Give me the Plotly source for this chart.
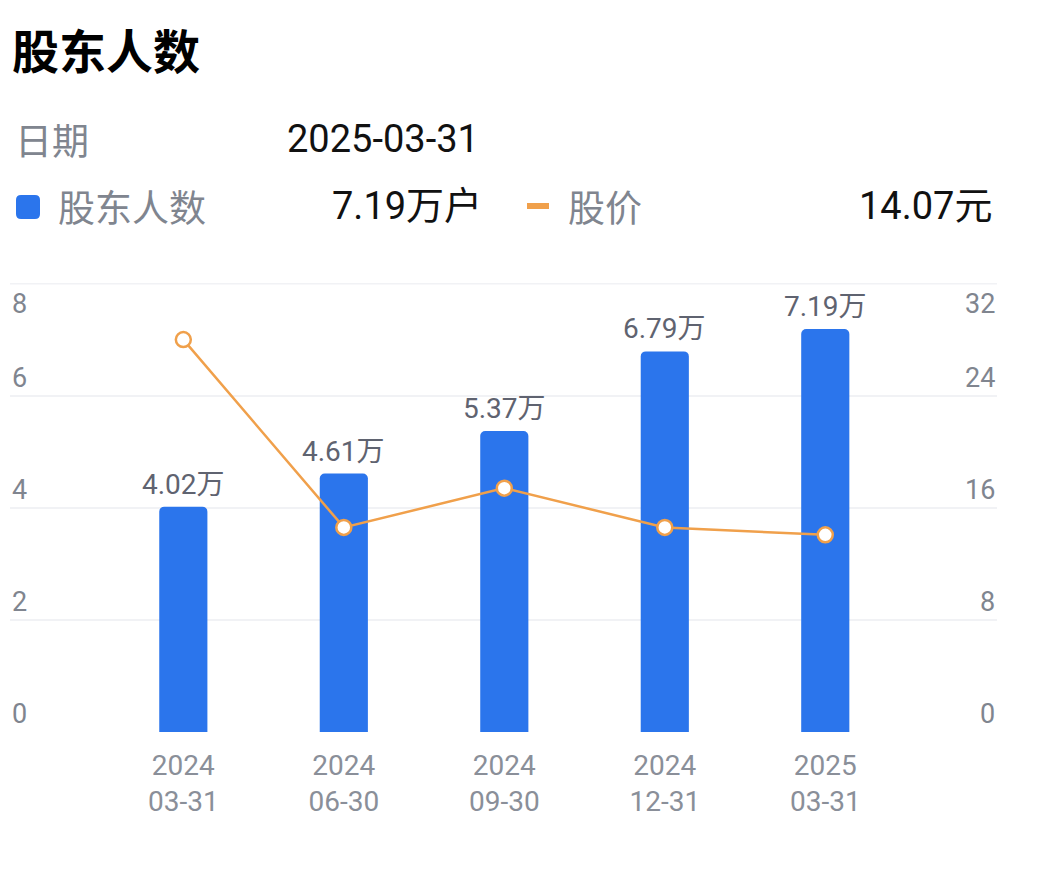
import plotly.graph_objects as go

# ---- data ----
dates = ["2024-03-31", "2024-06-30", "2024-09-30", "2024-12-31", "2025-03-31"]
holders = [4.02, 4.61, 5.37, 6.79, 7.19]          # 万户
price = [28.0, 14.6, 17.4, 14.6, 14.07]           # 元
left_ticks = [0, 2, 4, 6, 8]
right_ticks = [0, 8, 16, 24, 32]

x_labels = [d[:4] + "<br>" + d[5:] for d in dates]
x_idx = list(range(len(dates)))

BLUE = "#2B75EC"
ORANGE = "#F0A04B"
GRAY = "#80858F"
DARKGRAY = "#5F6370"
GRID = "#F1F2F5"
FONT = "Roboto, 'Noto Sans CJK SC', sans-serif"
CJK = "'Noto Sans CJK SC', Roboto, sans-serif"

OFF = 8  # page body margin
W, H = 1042 - OFF, 874 - OFF
# plot area in page pixels
L, R, T, B = 10, 997, 283, 732


def px(x):
    return (x - L) / (R - L)


def py(y):
    return (B - y) / (B - T)


fig = go.Figure()
fig.add_trace(go.Bar(
    x=x_idx, y=holders, width=0.3, marker=dict(color=BLUE, cornerradius=5, line=dict(width=0)),
    yaxis="y", hoverinfo="skip",
))
fig.add_trace(go.Scatter(
    x=x_idx, y=price, mode="lines+markers", yaxis="y2",
    line=dict(color=ORANGE, width=2.5),
    marker=dict(size=15, color="white", line=dict(color=ORANGE, width=2.5)),
    hoverinfo="skip",
))

ann = []
# bar value labels
for i, v in zip(x_idx, holders):
    ann.append(dict(x=i, y=v, xref="x", yref="y", text=f"{v:.2f}万", showarrow=False,
                    yanchor="bottom", yshift=4, font=dict(family=FONT, size=28, color=DARKGRAY)))
# left axis labels
for v in left_ticks:
    top = v == left_ticks[-1]
    ann.append(dict(x=0, y=v, xref="paper", yref="y", text=str(v), showarrow=False,
                    xanchor="left", yanchor="top" if top else "bottom",
                    yshift=-2 if top else 0, font=dict(family=FONT, size=27, color=GRAY)))
# right axis labels
for v in right_ticks:
    top = v == right_ticks[-1]
    ann.append(dict(x=1, y=v, xref="paper", yref="y2", text=str(v), showarrow=False,
                    xanchor="right", yanchor="top" if top else "bottom",
                    yshift=-2 if top else 0, font=dict(family=FONT, size=27, color=GRAY)))

# header texts
ann += [
    dict(x=px(10), y=py(48), xref="paper", yref="paper", text="<b>股东人数</b>", showarrow=False,
         xanchor="left", yanchor="middle", font=dict(family=CJK, size=47, color="#000000")),
    dict(x=px(13), y=py(139), xref="paper", yref="paper", text="日期", showarrow=False,
         xanchor="left", yanchor="middle", font=dict(family=CJK, size=37, color=GRAY)),
    dict(x=px(285), y=py(139), xref="paper", yref="paper", text=dates[-1], showarrow=False,
         xanchor="left", yanchor="middle", font=dict(family=FONT, size=38, color="#111111")),
    dict(x=px(56), y=py(206), xref="paper", yref="paper", text="股东人数", showarrow=False,
         xanchor="left", yanchor="middle", font=dict(family=CJK, size=37, color=GRAY)),
    dict(x=px(484), y=py(206), xref="paper", yref="paper", text=f"{holders[-1]:.2f}万户", showarrow=False,
         xanchor="right", yanchor="middle", font=dict(family=FONT, size=38, color="#111111")),
    dict(x=px(566), y=py(206), xref="paper", yref="paper", text="股价", showarrow=False,
         xanchor="left", yanchor="middle", font=dict(family=CJK, size=37, color=GRAY)),
    dict(x=px(994), y=py(206), xref="paper", yref="paper", text=f"{price[-1]:.2f}元", showarrow=False,
         xanchor="right", yanchor="middle", font=dict(family=FONT, size=38, color="#111111")),
]


def rounded_rect(x0, y0, x1, y1, r):
    pts = [
        f"M {px(x0 + r)} {py(y0)}", f"L {px(x1 - r)} {py(y0)}",
        f"Q {px(x1)} {py(y0)} {px(x1)} {py(y0 + r)}", f"L {px(x1)} {py(y1 - r)}",
        f"Q {px(x1)} {py(y1)} {px(x1 - r)} {py(y1)}", f"L {px(x0 + r)} {py(y1)}",
        f"Q {px(x0)} {py(y1)} {px(x0)} {py(y1 - r)}", f"L {px(x0)} {py(y0 + r)}",
        f"Q {px(x0)} {py(y0)} {px(x0 + r)} {py(y0)}", "Z",
    ]
    return " ".join(pts)


shapes = [
    dict(type="path", xref="paper", yref="paper", path=rounded_rect(16, 195, 40, 219, 5),
         fillcolor=BLUE, line=dict(width=0)),
    dict(type="line", xref="paper", yref="paper", x0=px(527), x1=px(549), y0=py(206), y1=py(206),
         line=dict(color=ORANGE, width=6)),
    # top gridline (at the range edge)
    dict(type="line", xref="paper", yref="y", x0=0, x1=1, y0=left_ticks[-1], y1=left_ticks[-1],
         line=dict(color=GRID, width=2), layer="below"),
]

fig.update_layout(
    width=W, height=H,
    margin=dict(l=L - OFF, r=W - (R - OFF), t=T - OFF, b=H - (B - OFF)),
    paper_bgcolor="white", plot_bgcolor="white",
    showlegend=False,
    annotations=ann, shapes=shapes,
    xaxis=dict(range=[-1.08, 5.07], tickvals=x_idx, ticktext=x_labels, showgrid=False,
               zeroline=False, showline=False, ticks="", ticklabelstandoff=14,
               tickfont=dict(family=FONT, size=28, color="#8A8F99"), fixedrange=True),
    yaxis=dict(range=[0, 8.01], tickvals=left_ticks, showticklabels=False, showgrid=True,
               gridcolor=GRID, gridwidth=2, zeroline=False, showline=False, fixedrange=True),
    yaxis2=dict(range=[0, 32.04], tickvals=right_ticks, showticklabels=False, showgrid=False,
                zeroline=False, overlaying="y", side="right", fixedrange=True),
)

fig.write_html("out.html")
